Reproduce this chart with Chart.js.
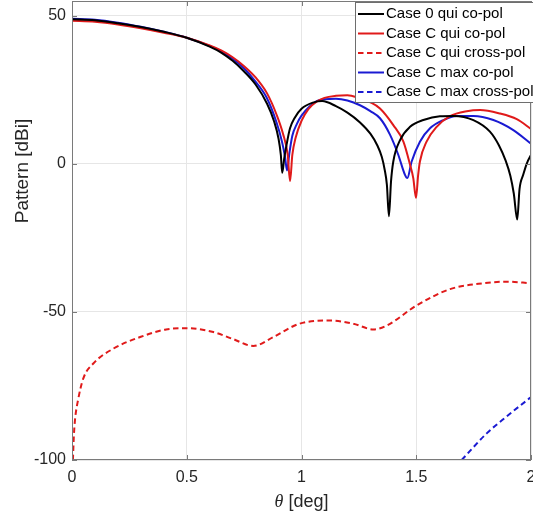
<!DOCTYPE html>
<html>
<head>
<meta charset="utf-8">
<script src="https://cdn.jsdelivr.net/npm/chart.js@4.4.1/dist/chart.umd.min.js"></script>
<style>
  html, body { margin: 0; padding: 0; background: #fff; overflow: hidden; }
</style>
</head>
<body>
<canvas id="pattern" width="545" height="515"></canvas>
<script>
// theta [deg] and gain [dBi] for each cut
const thetaC0Co = [0, 0.1, 0.2, 0.3, 0.4, 0.5, 0.6, 0.65, 0.7, 0.75, 0.8, 0.85, 0.88, 0.9, 0.91, 0.916, 0.925, 0.935, 0.95, 0.97, 1.0, 1.05, 1.09, 1.15, 1.2, 1.255, 1.3, 1.33, 1.35, 1.362, 1.372, 1.381, 1.39, 1.4, 1.43, 1.473, 1.531, 1.603, 1.661, 1.749, 1.821, 1.86, 1.89, 1.91, 1.925, 1.94, 1.95, 1.966, 1.982, 2.0];
const gainC0Co = [48.8, 48.5, 47.5, 46.2, 44.6, 42.6, 39.6, 37.6, 34.8, 31.2, 26.8, 20.3, 14.5, 8.5, 3.0, -3.0, 2.0, 6.5, 12.0, 15.5, 18.6, 20.7, 21.2, 19.5, 17.3, 14.0, 10.2, 6.3, 2.3, -1.8, -7.0, -17.7, -6.0, 0.8, 8.1, 12.5, 14.8, 16.1, 16.2, 14.8, 10.9, 6.3, 1.0, -4.0, -10.0, -18.8, -8.5, -3.7, 0.2, 3.0];

const thetaCQuiCo = [0, 0.1, 0.2, 0.3, 0.4, 0.5, 0.6, 0.65, 0.7, 0.75, 0.8, 0.85, 0.892, 0.92, 0.94, 0.95, 0.96, 0.975, 1.0, 1.03, 1.066, 1.1, 1.15, 1.2, 1.25, 1.3, 1.342, 1.4, 1.444, 1.473, 1.487, 1.499, 1.508, 1.516, 1.545, 1.589, 1.647, 1.72, 1.778, 1.865, 1.938, 2.0];
const gainCQuiCo = [48.3, 48.0, 47.1, 45.8, 44.3, 42.6, 40.0, 38.3, 36.0, 33.0, 29.2, 23.8, 16.5, 10.0, 3.0, -5.9, 3.0, 9.0, 14.5, 18.5, 21.0, 22.3, 23.0, 23.2, 22.3, 20.8, 18.7, 13.1, 7.5, -0.3, -4.8, -11.5, -4.0, 0.8, 7.5, 12.5, 16.1, 17.8, 18.2, 17.0, 15.1, 11.8];

const thetaCQuiX = [0.004, 0.008, 0.013, 0.027, 0.049, 0.093, 0.18, 0.3, 0.41, 0.5, 0.616, 0.7, 0.79, 0.877, 0.99, 1.124, 1.226, 1.313, 1.371, 1.5, 1.647, 1.792, 1.894, 2.0];
const gainCQuiX = [-100, -92, -86.5, -79.5, -72.5, -67.4, -62.4, -58.4, -55.9, -55.5, -56.8, -59.1, -61.5, -58.5, -54.0, -52.9, -54.0, -55.9, -54.6, -47.9, -42.3, -40.3, -39.8, -40.3];

const thetaCMaxCo = [0, 0.1, 0.2, 0.3, 0.4, 0.5, 0.6, 0.65, 0.7, 0.75, 0.79, 0.848, 0.892, 0.915, 0.928, 0.937, 0.947, 0.96, 0.98, 1.0, 1.066, 1.1, 1.15, 1.2, 1.255, 1.3, 1.342, 1.386, 1.422, 1.451, 1.461, 1.48, 1.516, 1.56, 1.618, 1.676, 1.749, 1.836, 1.923, 2.0];
const gainCMaxCo = [49.0, 48.7, 47.7, 46.3, 44.6, 42.6, 39.8, 38.0, 35.5, 32.2, 28.7, 22.4, 13.8, 7.5, 2.5, -2.2, 3.5, 9.5, 13.5, 16.3, 21.2, 21.8, 22.0, 21.4, 19.8, 17.8, 15.4, 9.8, 3.0, -3.7, -4.8, 0.8, 7.5, 12.0, 14.8, 16.2, 16.2, 14.8, 11.4, 6.8];

const thetaCMaxX = [1.698, 1.807, 1.894, 1.988, 2.0];
const gainCMaxX = [-100, -91.0, -85.3, -79.5, -78.8];

const xTicks = [0, 0.5, 1, 1.5, 2];
const yTicks = [-100, -50, 0, 50];

const seriesNames = [
  "Case 0 qui co-pol",
  "Case C qui co-pol",
  "Case C qui cross-pol",
  "Case C max co-pol",
  "Case C max cross-pol",
];

const RED = "#e01a1a";
const BLUE = "#1a1ad2";
const SANS = '"Liberation Sans", Arial, Helvetica, sans-serif';
const SERIF_IT = 'italic 18px "Liberation Serif", "Times New Roman", serif';

const toPoints = (xs, ys) => xs.map((x, i) => ({ x: x, y: ys[i] }));

const line = (label, xs, ys, color, dash) => ({
  label: label,
  data: toPoints(xs, ys),
  borderColor: color,
  backgroundColor: color,
  borderWidth: 2,
  borderDash: dash || [],
  pointRadius: 0,
  showLine: true,
  cubicInterpolationMode: "monotone",
});

// box, inward ticks, legend and axis titles
const framePlugin = {
  id: "frame",
  afterDatasetsDraw(chart) {
    const { ctx, chartArea: a, scales } = chart;
    ctx.save();
    ctx.strokeStyle = "#7a7a7a";
    ctx.lineWidth = 1;
    ctx.strokeRect(a.left + 0.5, a.top + 0.5, a.right - a.left - 1, a.bottom - a.top - 1);
    ctx.beginPath();
    xTicks.forEach((t) => {
      const px = Math.round(scales.x.getPixelForValue(t)) + 0.5;
      ctx.moveTo(px, a.bottom); ctx.lineTo(px, a.bottom - 5);
      ctx.moveTo(px, a.top); ctx.lineTo(px, a.top + 5);
    });
    yTicks.forEach((t) => {
      const py = Math.round(scales.y.getPixelForValue(t)) + 0.5;
      ctx.moveTo(a.left, py); ctx.lineTo(a.left + 5, py);
      ctx.moveTo(a.right, py); ctx.lineTo(a.right - 5, py);
    });
    ctx.stroke();
    ctx.restore();
  },
  afterDraw(chart) {
    const ctx = chart.ctx;
    ctx.save();

    // legend
    ctx.fillStyle = "#fff";
    ctx.strokeStyle = "#6e6e6e";
    ctx.lineWidth = 1;
    ctx.fillRect(355.5, 2.5, 200, 100);
    ctx.strokeRect(355.5, 2.5, 200, 100);
    ctx.font = "15px " + SANS;
    ctx.textBaseline = "middle";
    ctx.textAlign = "left";
    chart.data.datasets.forEach((ds, i) => {
      const y = 14 + i * 19.5;
      ctx.strokeStyle = ds.borderColor;
      ctx.lineWidth = 2;
      ctx.setLineDash(ds.borderDash);
      ctx.beginPath();
      ctx.moveTo(358, y);
      ctx.lineTo(384, y);
      ctx.stroke();
      ctx.setLineDash([]);
      ctx.fillStyle = "#000";
      ctx.fillText(ds.label, 386, y);
    });

    // y title
    ctx.fillStyle = "#262626";
    ctx.save();
    ctx.translate(23, 171);
    ctx.rotate(-Math.PI / 2);
    ctx.textAlign = "center";
    ctx.font = "19px " + SANS;
    ctx.fillText("Pattern [dBi]", 0, 0);
    ctx.restore();

    // x title: italic theta + unit
    const a = chart.chartArea;
    const th = "\u03b8";
    const unit = " [deg]";
    ctx.font = SERIF_IT;
    const w1 = ctx.measureText(th).width;
    ctx.font = "18px " + SANS;
    const w2 = ctx.measureText(unit).width;
    const x0 = (a.left + a.right) / 2 - (w1 + w2) / 2;
    ctx.textAlign = "left";
    ctx.font = SERIF_IT;
    ctx.fillText(th, x0, 502);
    ctx.font = "18px " + SANS;
    ctx.fillText(unit, x0 + w1, 502);

    ctx.restore();
  },
};

new Chart(document.getElementById("pattern"), {
  type: "scatter",
  data: {
    datasets: [
      line(seriesNames[0], thetaC0Co, gainC0Co, "#000000"),
      line(seriesNames[1], thetaCQuiCo, gainCQuiCo, RED),
      line(seriesNames[2], thetaCQuiX, gainCQuiX, RED, [5.5, 3.5]),
      line(seriesNames[3], thetaCMaxCo, gainCMaxCo, BLUE),
      line(seriesNames[4], thetaCMaxX, gainCMaxX, BLUE, [5.5, 3.5]),
    ],
  },
  options: {
    responsive: false,
    animation: false,
    layout: { padding: { top: 1, right: 14, left: 0, bottom: 0 } },
    plugins: {
      legend: { display: false },
      tooltip: { enabled: false },
    },
    scales: {
      x: {
        type: "linear",
        min: 0,
        max: 2,
        afterBuildTicks: (s) => { s.ticks = xTicks.map((v) => ({ value: v })); },
        afterFit: (s) => { s.height = 55; },
        ticks: {
          padding: 8,
          color: "#262626",
          font: { family: SANS, size: 16 },
          callback: (v) => String(v),
        },
        grid: { color: "#e6e6e6", drawTicks: false },
        border: { display: false },
      },
      y: {
        min: -100,
        max: 55,
        afterBuildTicks: (s) => { s.ticks = yTicks.map((v) => ({ value: v })); },
        afterFit: (s) => {
          s.width = 72;
          s.paddingTop = 0;
          s.paddingBottom = 0;
        },
        ticks: {
          padding: 6,
          color: "#262626",
          font: { family: SANS, size: 16 },
          callback: (v) => String(v),
        },
        grid: { color: "#e6e6e6", drawTicks: false },
        border: { display: false },
      },
    },
  },
  plugins: [framePlugin],
});
</script>
</body>
</html>
